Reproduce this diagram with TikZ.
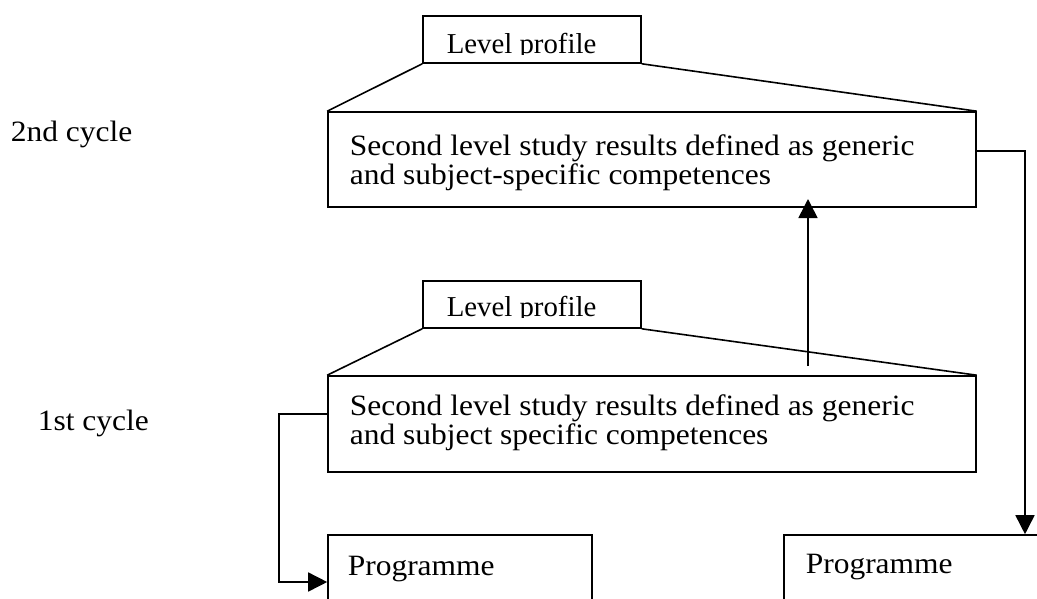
\documentclass[tikz,border=0pt]{standalone}
\usepackage{fontspec}
\setmainfont{Liberation Serif}
\newfontfamily\widefont[FakeStretch=1.067]{Liberation Serif}
\usetikzlibrary{arrows.meta}
\begin{document}
\begin{tikzpicture}[x=1pt,y=-1pt,
  line width=1.6pt,
  txt/.style={inner sep=0pt,anchor=base west,font=\widefont\fontsize{29.5}{30}\selectfont},
  lptxt/.style={inner sep=0pt,anchor=base west,font=\fontsize{28.8}{30}\selectfont},
  boxshape/.style={draw,rectangle,inner sep=0pt},
  conn/.style={-{Triangle[length=19pt,width=19pt]}}]
\useasboundingbox (0,0) rectangle (1037,598);
% boxes
\node[boxshape,minimum width=218pt,minimum height=47pt] (lp2) at (532,39.5) {};
\node[boxshape,minimum width=648pt,minimum height=95pt] (box2) at (652,159.5) {};
\node[boxshape,minimum width=218pt,minimum height=47pt] (lp1) at (532,304.5) {};
\node[boxshape,minimum width=648pt,minimum height=96pt] (box1) at (652,424) {};
\node[boxshape,minimum width=264pt,minimum height=85pt] (prog1) at (460,577.5) {};
\node[boxshape,minimum width=276pt,minimum height=85pt] (prog2) at (922,577.5) {};
% clipped level profile texts
\begin{scope}
\clip (423,16) rectangle (641,54);
\node[lptxt] (lp2t) at (446,53) {Level profile};
\end{scope}
\begin{scope}
\clip (423,281) rectangle (641,317);
\node[lptxt] (lp1t) at (446,316) {Level profile};
\end{scope}
% trapezoid lines
\draw (lp2.south west) -- (box2.north west);
\draw (lp2.south east) -- (box2.north east);
\draw (lp1.south west) -- (box1.north west);
\draw (lp1.south east) -- (box1.north east);
% texts
\node[txt] (c2) at (10,141) {2nd cycle};
\node[txt] (c1) at (37,430) {1st cycle};
\node[txt] (b2a) at (349,155) {Second level study results defined as generic};
\node[txt] (b2b) at (349,184) {and subject-specific competences};
\node[txt] (b1a) at (349,415) {Second level study results defined as generic};
\node[txt] (b1b) at (349,444) {and subject specific competences};
\node[txt] (p1t) at (347,575) {Programme};
\node[txt] (p2t) at (805,573) {Programme};
% connectors
\coordinate (r1) at (1025,151);
\draw[conn] (r1 -| box2.east) -- (r1) -- (r1 |- prog2.north);
\coordinate (u0) at (808,366);
\coordinate (u1) at (808,199);
\draw[conn] (u0) -- (u1);
\coordinate (l1) at (279,414);
\coordinate (l2) at (279,582);
\draw[conn] (l1 -| box1.west) -- (l1) -- (l2) -- (l2 -| prog1.west);
\end{tikzpicture}
\end{document}
